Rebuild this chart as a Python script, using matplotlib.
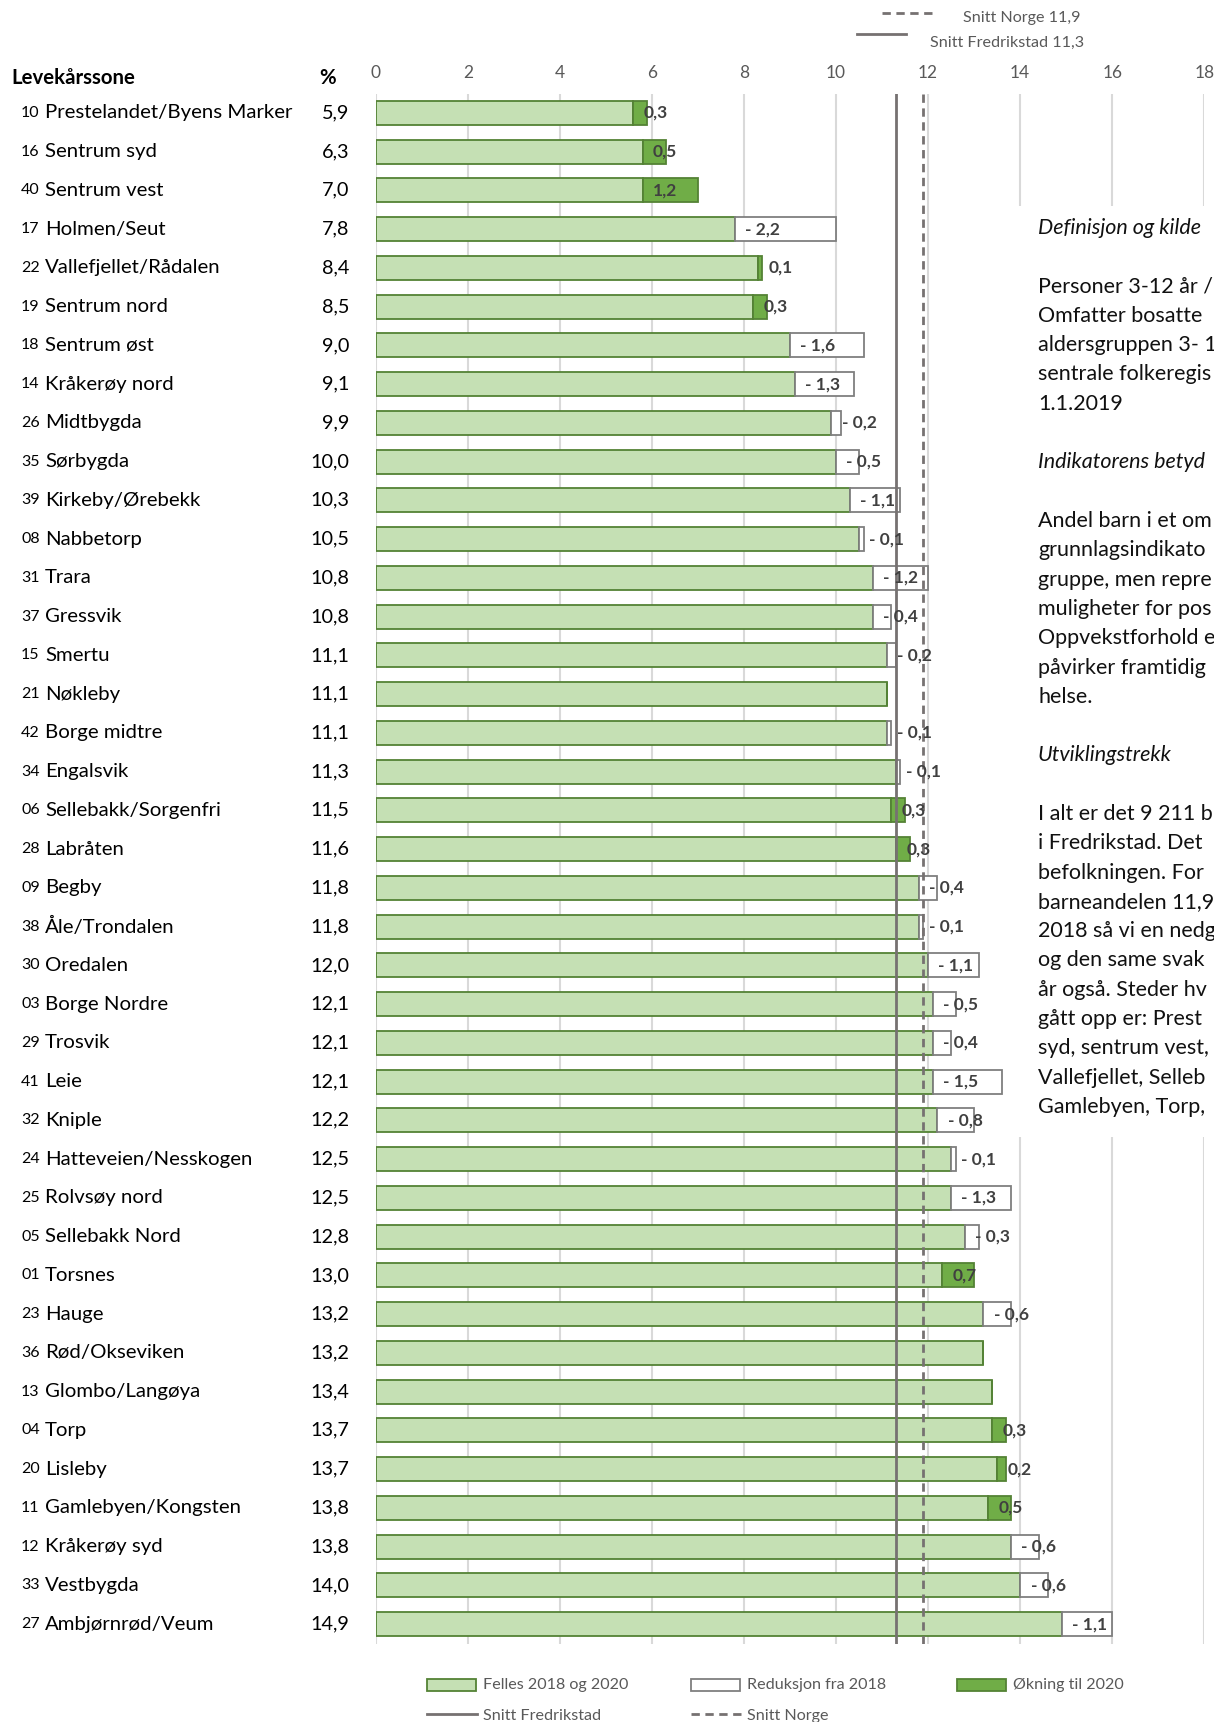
import numpy as np
import matplotlib.pyplot as plt
from matplotlib.patches import Rectangle
from matplotlib.lines import Line2D
from matplotlib.transforms import blended_transform_factory

plt.rcParams['font.family'] = ['Lato', 'DejaVu Sans']

# -----------------------------
# DATA
# -----------------------------
codes = ["10", "16", "40", "17", "22", "19", "18", "14", "26", "35",
         "39", "08", "31", "37", "15", "21", "42", "34", "06", "28",
         "09", "38", "30", "03", "29", "41", "32", "24", "25", "05",
         "01", "23", "36", "13", "04", "20", "11", "12", "33", "27"]
names = ["Prestelandet/Byens Marker", "Sentrum syd", "Sentrum vest", "Holmen/Seut",
         "Vallefjellet/Rådalen", "Sentrum nord", "Sentrum øst", "Kråkerøy nord",
         "Midtbygda", "Sørbygda", "Kirkeby/Ørebekk", "Nabbetorp", "Trara", "Gressvik",
         "Smertu", "Nøkleby", "Borge midtre", "Engalsvik", "Sellebakk/Sorgenfri",
         "Labråten", "Begby", "Åle/Trondalen", "Oredalen", "Borge Nordre", "Trosvik",
         "Leie", "Kniple", "Hatteveien/Nesskogen", "Rolvsøy nord", "Sellebakk Nord",
         "Torsnes", "Hauge", "Rød/Okseviken", "Glombo/Langøya", "Torp", "Lisleby",
         "Gamlebyen/Kongsten", "Kråkerøy syd", "Vestbygda", "Ambjørnrød/Veum"]
pct_2020 = [5.9, 6.3, 7.0, 7.8, 8.4, 8.5, 9.0, 9.1, 9.9, 10.0,
            10.3, 10.5, 10.8, 10.8, 11.1, 11.1, 11.1, 11.3, 11.5, 11.6,
            11.8, 11.8, 12.0, 12.1, 12.1, 12.1, 12.2, 12.5, 12.5, 12.8,
            13.0, 13.2, 13.2, 13.4, 13.7, 13.7, 13.8, 13.8, 14.0, 14.9]
# change from 2018 to 2020 (positive = økning, negative = reduksjon)
change = [0.3, 0.5, 1.2, -2.2, 0.1, 0.3, -1.6, -1.3, -0.2, -0.5,
          -1.1, -0.1, -1.2, -0.4, -0.2, 0.0, -0.1, -0.1, 0.3, 0.3,
          -0.4, -0.1, -1.1, -0.5, -0.4, -1.5, -0.8, -0.1, -1.3, -0.3,
          0.7, -0.6, 0.0, 0.0, 0.3, 0.2, 0.5, -0.6, -0.6, -1.1]
snitt_fredrikstad = 11.3
snitt_norge = 11.9
xticks = [0, 2, 4, 6, 8, 10, 12, 14, 16, 18]

# text beside the chart, as far as it is visible (cut at the page edge)
side_text = [
    ("Definisjon og kilde", True), ("", False),
    ("Personer 3-12 år /", False),
    ("Omfatter bosatte", False),
    ("aldersgruppen 3- 1", False),
    ("sentrale folkeregis", False),
    ("1.1.2019", False), ("", False),
    ("Indikatorens betyd", True), ("", False),
    ("Andel barn i et om", False),
    ("grunnlagsindikato", False),
    ("gruppe, men repre", False),
    ("muligheter for pos", False),
    ("Oppvekstforhold e", False),
    ("påvirker framtidig", False),
    ("helse.", False), ("", False),
    ("Utviklingstrekk", True), ("", False),
    ("I alt er det 9 211 b", False),
    ("i Fredrikstad. Det", False),
    ("befolkningen. For", False),
    ("barneandelen 11,9", False),
    ("2018 så vi en nedg", False),
    ("og den same svak", False),
    ("år også. Steder hv", False),
    ("gått opp er: Prest", False),
    ("syd, sentrum vest,", False),
    ("Vallefjellet, Selleb", False),
    ("Gamlebyen, Torp,", False),
]

# -----------------------------
# DERIVED
# -----------------------------
pct = np.array(pct_2020)
chg = np.array(change)
felles = pct - np.clip(chg, 0, None)
okning = np.clip(chg, 0, None)
reduksjon = np.clip(-chg, 0, None)
y = np.arange(len(pct))

LIGHT = '#c5e0b4'
DARK = '#70ad47'
EDGE_G = '#548235'
EDGE_W = '#7f7f7f'
AVG = '#767171'
GRAY_TXT = '#595959'

W, H = 1214, 1722
fx = lambda px: px / W
fy = lambda py: 1 - py / H

fig = plt.figure(figsize=(W / 100, H / 100), dpi=100)
ax = fig.add_axes([fx(375.7), fy(1643.5), 828.5 / W, (1643.5 - 93.5) / H])

bh = 0.62
ax.barh(y, felles, height=bh, color=LIGHT, edgecolor=EDGE_G, linewidth=1.3, zorder=2)
ax.barh(y, okning, left=felles, height=bh, color=DARK, edgecolor=EDGE_G, linewidth=1.3, zorder=2)
red_mask = reduksjon > 0
ax.barh(y[red_mask], reduksjon[red_mask], left=felles[red_mask], height=bh,
        color='white', edgecolor=EDGE_W, linewidth=1.3, zorder=2)

ax.axvline(snitt_fredrikstad, color=AVG, lw=2.0, zorder=3)
ax.axvline(snitt_norge, color=AVG, lw=2.0, ls=(0, (3, 2)), zorder=3)

# change labels
for i in range(len(pct)):
    if chg[i] == 0:
        continue
    lab = f"{abs(chg[i]):.1f}".replace('.', ',')
    if chg[i] < 0:
        lab = "- " + lab
    ax.annotate(lab, (felles[i], y[i]), xytext=(7.5, 0), textcoords='offset points',
                ha='left', va='center', fontsize=12.5, fontweight='bold',
                color='#404040', zorder=4)

ax.set_xlim(0, 18)
ax.set_ylim(len(pct) - 0.5, -0.5)
ax.set_xticks(xticks)
ax.xaxis.tick_top()
ax.tick_params(axis='x', length=0, pad=9, labelsize=12.5, labelcolor=GRAY_TXT)
ax.set_yticks([])
ax.grid(axis='x', color='#d9d9d9', lw=1.5)
ax.set_axisbelow(True)
for s in ax.spines.values():
    s.set_visible(False)

# row labels
tr = blended_transform_factory(fig.transFigure, ax.transData)
for i in range(len(pct)):
    fig.text(fx(21), y[i], codes[i], transform=tr, ha='left', va='center', fontsize=11.5, color='black')
    fig.text(fx(45), y[i], names[i], transform=tr, ha='left', va='center', fontsize=14.7, color='black')
    fig.text(fx(349), y[i], f"{pct[i]:.1f}".replace('.', ','), transform=tr,
             ha='right', va='center', fontsize=14.3, color='black')

fig.text(fx(11), fy(78), "Levekårssone", ha='left', va='center', fontsize=14.7, fontweight='bold')
fig.text(fx(319), fy(78), "%", ha='left', va='center', fontsize=14.7, fontweight='bold')

# top legend
fig.add_artist(Line2D([fx(882), fx(934)], [fy(13), fy(13)], color=AVG, lw=2.0, ls=(0, (3, 2))))
fig.text(fx(963), fy(18), "Snitt Norge 11,9", ha='left', va='center', fontsize=11.6, color=GRAY_TXT)
fig.add_artist(Line2D([fx(857), fx(906)], [fy(34), fy(34)], color=AVG, lw=2.0))
fig.text(fx(930), fy(43), "Snitt Fredrikstad 11,3", ha='left', va='center', fontsize=11.6, color=GRAY_TXT)

# side text box (covers the gridlines behind it)
fig.add_artist(Rectangle((fx(1012), fy(1137)), 1 - fx(1012), (1137 - 206) / H,
                         transform=fig.transFigure, facecolor='white', edgecolor='none', zorder=5))
for k, (line, ital) in enumerate(side_text):
    if line:
        fig.text(fx(1038), fy(228 + k * 29.3), line, ha='left', va='center', fontsize=15.5,
                 style='italic' if ital else 'normal', color='#111111', zorder=6)

# bottom legend
def patch(x0, yc, fc, ec):
    fig.add_artist(Rectangle((fx(x0), fy(yc + 6)), 49 / W, 12 / H, transform=fig.transFigure,
                             facecolor=fc, edgecolor=ec, lw=1.3))

patch(427, 1685, LIGHT, EDGE_G)
fig.text(fx(483), fy(1685), "Felles 2018 og 2020", ha='left', va='center', fontsize=11.6, color=GRAY_TXT)
patch(691, 1685, 'white', EDGE_W)
fig.text(fx(747), fy(1685), "Reduksjon fra 2018", ha='left', va='center', fontsize=11.6, color=GRAY_TXT)
patch(957, 1685, DARK, EDGE_G)
fig.text(fx(1013), fy(1685), "Økning til 2020", ha='left', va='center', fontsize=11.6, color=GRAY_TXT)
fig.add_artist(Line2D([fx(427), fx(477)], [fy(1714), fy(1714)], color=AVG, lw=2.0))
fig.text(fx(483), fy(1716), "Snitt Fredrikstad", ha='left', va='center', fontsize=11.6, color=GRAY_TXT)
fig.add_artist(Line2D([fx(691), fx(742)], [fy(1714), fy(1714)], color=AVG, lw=2.0, ls=(0, (3, 2))))
fig.text(fx(747), fy(1716), "Snitt Norge", ha='left', va='center', fontsize=11.6, color=GRAY_TXT)

fig.savefig("out.png", dpi=100)
